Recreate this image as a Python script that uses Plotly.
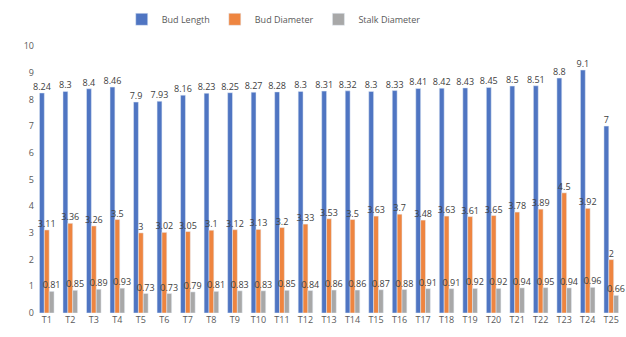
import plotly.graph_objects as go

categories = [f"T{i}" for i in range(1, 26)]
bud_length = [8.24, 8.3, 8.4, 8.46, 7.9, 7.93, 8.16, 8.23, 8.25, 8.27, 8.28, 8.3, 8.31,
              8.32, 8.3, 8.33, 8.41, 8.42, 8.43, 8.45, 8.5, 8.51, 8.8, 9.1, 7]
bud_diameter = [3.11, 3.36, 3.26, 3.5, 3, 3.02, 3.05, 3.1, 3.12, 3.13, 3.2, 3.33, 3.53,
                3.5, 3.63, 3.7, 3.48, 3.63, 3.61, 3.65, 3.78, 3.89, 4.5, 3.92, 2]
stalk_diameter = [0.81, 0.85, 0.89, 0.93, 0.73, 0.73, 0.79, 0.81, 0.83, 0.83, 0.85, 0.84,
                  0.86, 0.86, 0.87, 0.88, 0.91, 0.91, 0.92, 0.92, 0.94, 0.95, 0.94, 0.96, 0.66]

series = [("Bud Length", bud_length, "#4F75C2"),
          ("Bud Diameter", bud_diameter, "#EE8540"),
          ("Stalk Diameter", stalk_diameter, "#A8A8A8")]

fig = go.Figure()
for name, vals, col in series:
    fig.add_trace(go.Bar(
        x=categories, y=vals, name=name, marker_color=col,
        text=[f"{v:g}" for v in vals], textposition="outside",
        textfont=dict(size=9, color="#404040"), cliponaxis=False,
        constraintext="none",
    ))

fig.update_layout(
    width=626, height=337,
    margin=dict(l=35, r=3, t=46, b=24),
    paper_bgcolor="white", plot_bgcolor="white",
    barmode="group", bargap=0.38, bargroupgap=0.0,
    font=dict(family="Open Sans, sans-serif", size=10, color="#595959"),
    legend=dict(orientation="h", x=0.406, xanchor="center", y=1.10, yanchor="middle",
                font=dict(size=9, color="#595959"), itemwidth=30, tracegroupgap=0),
    showlegend=True,
)
fig.update_yaxes(range=[0, 10], dtick=1, showgrid=False, zeroline=False, showline=False,
                 tickfont=dict(size=9, color="#595959"))
fig.update_xaxes(showgrid=False, showline=False, ticks="",
                 tickfont=dict(size=9, color="#595959"))

fig.write_html("out.html")
